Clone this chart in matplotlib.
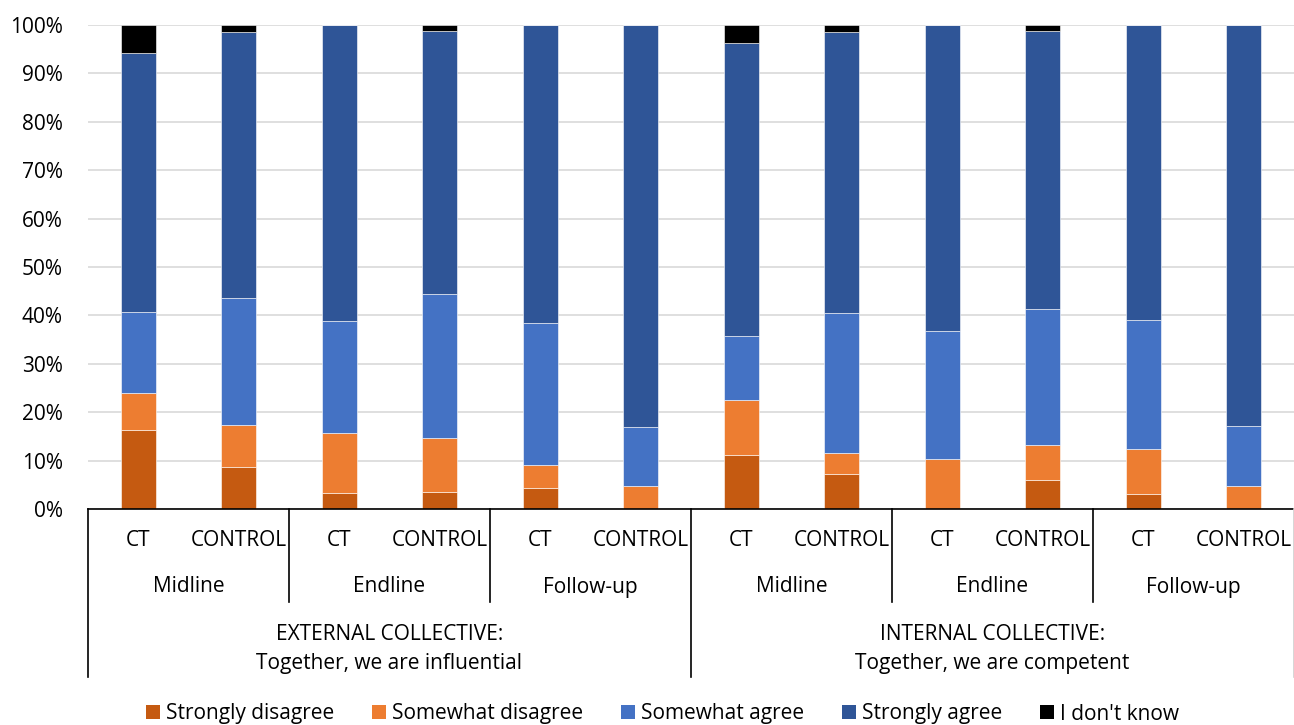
import matplotlib
matplotlib.use("Agg")
import matplotlib.pyplot as plt
from matplotlib.patches import Patch
from matplotlib.lines import Line2D
from matplotlib.transforms import blended_transform_factory
import numpy as np

plt.rcParams['font.family'] = ['Open Sans', 'DejaVu Sans']

groups = ["CT", "CONTROL"] * 6
rounds = ["Midline", "Endline", "Follow-up"] * 2
dimensions = ["EXTERNAL COLLECTIVE:\nTogether, we are influential",
              "INTERNAL COLLECTIVE:\nTogether, we are competent"]

series_names = ["Strongly disagree", "Somewhat disagree", "Somewhat agree",
                "Strongly agree", "I don't know"]
strongly_disagree = [16.4, 8.6, 3.4, 3.6, 4.4, 0.0, 11.1, 7.2, 0.0, 5.9, 3.0, 0.0]
somewhat_disagree = [7.5, 8.7, 12.3, 11.1, 4.7, 4.8, 11.5, 4.4, 10.4, 7.4, 9.4, 4.8]
somewhat_agree = [16.9, 26.2, 23.2, 29.8, 29.3, 12.2, 13.2, 28.9, 26.4, 28.0, 26.7, 12.4]
strongly_agree = [53.5, 55.0, 61.1, 54.3, 61.6, 83.0, 60.4, 58.0, 63.2, 57.5, 60.9, 82.8]
dont_know = [5.7, 1.5, 0.0, 1.2, 0.0, 0.0, 3.8, 1.5, 0.0, 1.2, 0.0, 0.0]

colors = ["#C55A11", "#ED7D31", "#4472C4", "#2F5597", "#000000"]

W, H = 1294, 725
fig = plt.figure(figsize=(W / 100, H / 100), dpi=100)
ax = fig.add_axes([88 / W, 1 - 509 / H, 1206 / W, 484 / H])

x = np.arange(len(groups))
bottom = np.zeros(len(groups))
for vals, c in zip([strongly_disagree, somewhat_disagree, somewhat_agree,
                    strongly_agree, dont_know], colors):
    v = np.array(vals)
    ax.bar(x, v, 0.345, bottom=bottom, color=c, edgecolor="#FFFFFF",
           linewidth=0.4, zorder=3)
    bottom += v

FS = 15
ax.set_xlim(-0.5, len(groups) - 0.5)
ax.set_ylim(0, 100)
ax.set_yticks(np.arange(0, 101, 10))
ax.set_yticklabels([f"{t}%" for t in range(0, 101, 10)])
ax.tick_params(axis="y", length=0, labelsize=FS, pad=18)
ax.tick_params(axis="x", length=0, labelbottom=False)
ax.grid(axis="y", color="#D9D9D9", linewidth=1.2, zorder=0)
for s in ["top", "right", "left"]:
    ax.spines[s].set_visible(False)
ax.spines["bottom"].set_color("#000000")
ax.spines["bottom"].set_linewidth(1.2)
ax.spines["bottom"].set_zorder(4)

tr = blended_transform_factory(ax.transData, fig.transFigure)


def fy(py):
    return 1 - py / H


# innermost tier: treatment group
for xi, g in zip(x, groups):
    fig.text(xi, fy(541), g, transform=tr, ha="center", va="center", fontsize=FS)

# middle tier: survey round
for i, r in enumerate(rounds):
    fig.text(2 * i + 0.5, fy(587), r, transform=tr, ha="center", va="center",
             fontsize=FS)

# outer tier: dimension
for i, d in enumerate(dimensions):
    fig.text(6 * i + 2.5, fy(649), d, transform=tr, ha="center", va="center",
             fontsize=FS, linespacing=1.45)

# separators between categories
for b in [1.5, 3.5, 7.5, 9.5]:
    fig.add_artist(Line2D([b, b], [fy(509), fy(602)], transform=tr,
                          color="#000000", linewidth=1.2))
for b in [-0.5, 5.5]:
    fig.add_artist(Line2D([b, b], [fy(509), fy(677)], transform=tr,
                          color="#000000", linewidth=1.2))
fig.add_artist(Line2D([11.5, 11.5], [fy(509), fy(677)], transform=tr,
                      color="#D0D0D0", linewidth=1.2))

handles = [Patch(facecolor=c, edgecolor="none") for c in colors]
fig.legend(handles, series_names, loc="center", bbox_to_anchor=(0.512, fy(714)),
           ncol=5, frameon=False, fontsize=FS, handlelength=0.67,
           handleheight=0.67, handletextpad=0.3, columnspacing=1.8)

fig.savefig("out.png", dpi=100)
